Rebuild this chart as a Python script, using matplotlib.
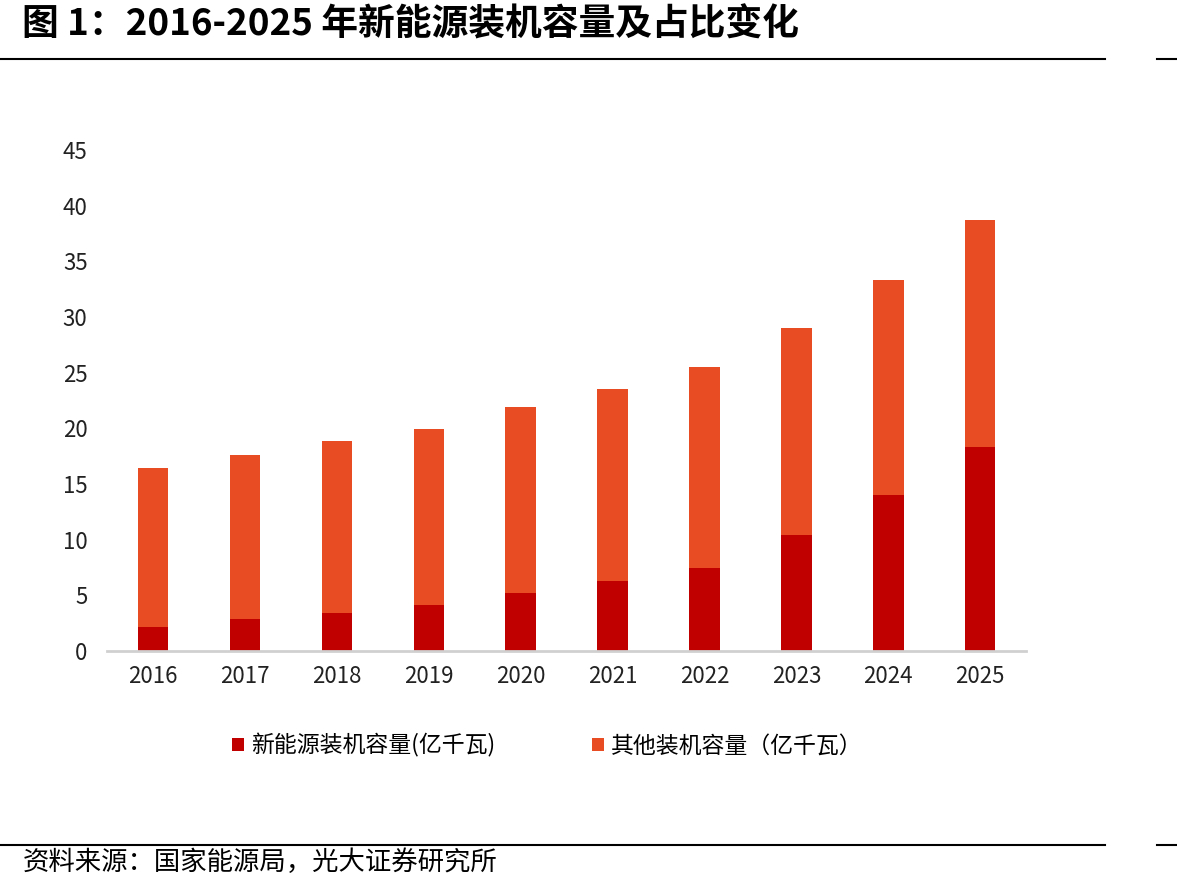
import matplotlib.pyplot as plt
import numpy as np

plt.rcParams['font.family'] = ['Noto Sans CJK SC', 'DejaVu Sans']

years = ['2016', '2017', '2018', '2019', '2020', '2021', '2022', '2023', '2024', '2025']
total = [16.4, 17.6, 18.9, 19.9, 21.9, 23.5, 25.5, 29.0, 33.3, 38.7]
new_energy = [2.2, 2.9, 3.4, 4.1, 5.2, 6.3, 7.5, 10.4, 14.0, 18.3]
other = [t - n for t, n in zip(total, new_energy)]

c_new = '#C00000'
c_other = '#E84C22'

fig = plt.figure(figsize=(11.77, 8.94), dpi=100)
ax = fig.add_axes([0.0909, 0.2718, 0.781, 0.5604])

x = np.arange(len(years))
ax.bar(x, new_energy, width=0.33, color=c_new, label='新能源装机容量(亿千瓦)')
ax.bar(x, other, width=0.33, bottom=new_energy, color=c_other, label='其他装机容量（亿千瓦）')

ax.set_xlim(-0.5, len(years) - 0.5)
ax.set_ylim(0, 45)
ax.set_yticks(range(0, 46, 5))
ax.set_xticks(x)
ax.set_xticklabels(years)
ax.tick_params(axis='both', length=0, labelsize=16, colors='#222222')
ax.tick_params(axis='x', pad=10)
ax.tick_params(axis='y', pad=14)
for s in ['top', 'right', 'left']:
    ax.spines[s].set_visible(False)
ax.spines['bottom'].set_color('#D0D0D0')
ax.spines['bottom'].set_linewidth(2)

fig.legend(loc='center', bbox_to_anchor=(0.465, 0.166), ncol=2, frameon=False,
           fontsize=16.5, handlelength=0.55, handleheight=0.55, columnspacing=4.2,
           handletextpad=0.3)

fig.text(0.019, 0.972, '图 1：2016-2025 年新能源装机容量及占比变化', fontsize=26.5,
         fontweight='bold', va='center', ha='left')
for yy in [1 - 59 / 894, 1 - 845 / 894]:
    fig.add_artist(plt.Line2D([0, 1105 / 1177], [yy, yy], color='black', lw=1.5))
    fig.add_artist(plt.Line2D([1157 / 1177, 1], [yy, yy], color='black', lw=1.5))
fig.text(0.019, 1 - 862 / 894, '资料来源：国家能源局，光大证券研究所', fontsize=19,
         va='center', ha='left')

fig.savefig('out.png', dpi=100)
